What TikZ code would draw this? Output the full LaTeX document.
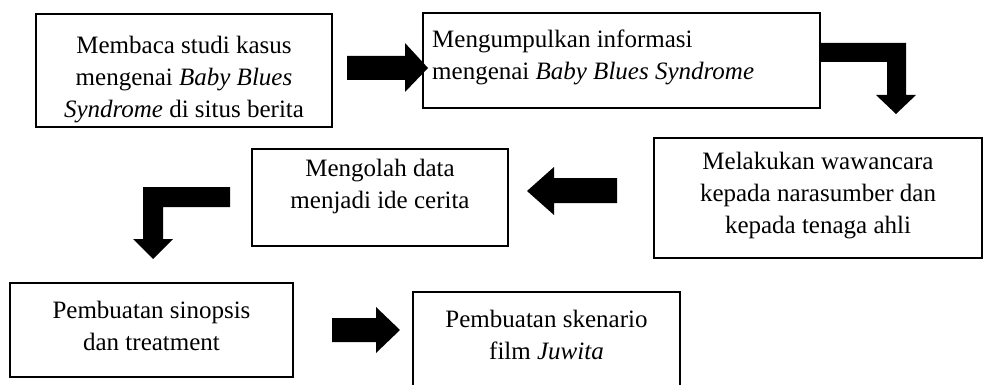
\documentclass[tikz,border=0pt]{standalone}
\usepackage{fontspec}
\setmainfont{Liberation Serif}

\tikzset{
  box/.style={draw, line width=1.6pt, inner sep=0pt},
  txt/.style={inner sep=0pt, align=center, font=\fontsize{25}{32}\selectfont},
  blockarrow/.style={fill=black}
}

\begin{document}
\begin{tikzpicture}[x=1pt,y=-1pt]

\clip (0,0) rectangle (985,385);
\fill[white] (0,0) rectangle (985,385);

% boxes
\node[box, minimum width=296pt, minimum height=113pt] (b1) at (184,70.5) {};
\node[box, minimum width=397pt, minimum height=95pt] (b2) at (621.5,60.5) {};
\node[box, minimum width=328pt, minimum height=120pt] (b3) at (818,198) {};
\node[box, minimum width=256pt, minimum height=97pt] (b4) at (380,197.5) {};
\node[box, minimum width=283pt, minimum height=94pt] (b5) at (151.5,330) {};
\node[box, minimum width=267pt, minimum height=103pt] (b6) at (546.5,343.5) {};

% block arrows
\fill[blockarrow] (347,56) -- (405,56) -- (405,43) -- (428,68) -- (405,92)
    -- (405,80) -- (347,80) -- cycle;
\fill[blockarrow] (820,43) -- (906,43) -- (906,95) -- (916,95) -- (896,114)
    -- (876,95) -- (887,95) -- (887,62) -- (820,62) -- cycle;
\fill[blockarrow] (617,178) -- (554,178) -- (554,167) -- (527,191) -- (554,215)
    -- (554,203) -- (617,203) -- cycle;
\fill[blockarrow] (230,187) -- (143,187) -- (143,239) -- (133,239) -- (153,259)
    -- (173,239) -- (163,239) -- (163,207) -- (230,207) -- cycle;
\fill[blockarrow] (332,318) -- (376,318) -- (376,307) -- (400,330) -- (376,353)
    -- (376,342) -- (332,342) -- cycle;

% texts
\node[txt, anchor=north] (t1) at (184,36)
    {Membaca studi kasus\\ mengenai \textit{Baby Blues}\\ \textit{Syndrome} di situs berita};
\node[txt, anchor=north west, align=left] (t2) at (432,30)
    {Mengumpulkan informasi\\ mengenai \textit{Baby Blues Syndrome}};
\node[txt, anchor=north] (t3) at (818,152)
    {Melakukan wawancara\\ kepada narasumber dan\\ kepada tenaga ahli};
\node[txt, anchor=north] (t4) at (380,159)
    {Mengolah data\\ menjadi ide cerita};
\node[txt, anchor=north] (t5) at (151.5,301)
    {Pembuatan sinopsis\\ dan treatment};
\node[txt, anchor=north] (t6) at (546.5,310)
    {Pembuatan skenario\\ film \textit{Juwita}};

\end{tikzpicture}
\end{document}
